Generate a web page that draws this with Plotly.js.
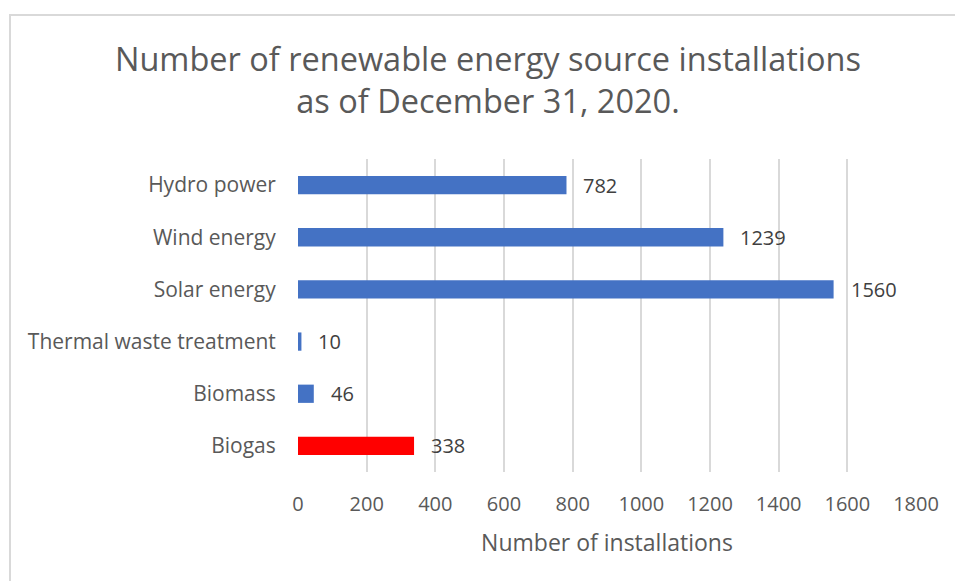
<!DOCTYPE html>
<html>
<head>
<meta charset="utf-8">
<script src="https://cdn.plot.ly/plotly-3.0.1.min.js"></script>
<style>
  html, body { margin: 0; padding: 0; background: #ffffff; overflow: hidden; }
  #frame { position: absolute; left: 9px; top: 14px; width: 1100px; height: 800px; border: 2px solid #d9d9d9; box-sizing: border-box; }
  #chart { position: absolute; left: 0; top: 0; width: 955px; height: 581px; }
</style>
</head>
<body>
<div id="frame"></div>
<div id="chart"></div>
<script>
const categories = ["Biogas", "Biomass", "Thermal waste treatment", "Solar energy", "Wind energy", "Hydro power"];
const values = [338, 46, 10, 1560, 1239, 782];
const barColors = ["#FF0000", "#4472C4", "#4472C4", "#4472C4", "#4472C4", "#4472C4"];
const tickValues = [0, 200, 400, 600, 800, 1000, 1200, 1400, 1600, 1800];

const FONT = "Open Sans, Noto Sans, sans-serif";

const trace = {
  type: "bar",
  orientation: "h",
  y: categories,
  x: values,
  marker: { color: barColors },
  width: 0.35,
  hoverinfo: "skip"
};

const annotations = categories.map((c, i) => ({
  x: values[i], y: c, xref: "x", yref: "y",
  text: String(values[i]), showarrow: false,
  xanchor: "left", yanchor: "middle", xshift: 15,
  font: { family: FONT, size: 20, color: "#404040" }
}));

const layout = {
  width: 955, height: 581,
  margin: { l: 298, r: 39, t: 159, b: 109 },
  paper_bgcolor: "rgba(0,0,0,0)",
  plot_bgcolor: "rgba(0,0,0,0)",
  showlegend: false,
  title: {
    text: "Number of renewable energy source installations<br>as of December 31, 2020.",
    font: { family: FONT, size: 32.5, color: "#595959" },
    x: 0.511, xanchor: "center",
    y: 0.878, yanchor: "top", yref: "container"
  },
  xaxis: {
    range: [0, 1800],
    tickvals: tickValues,
    ticktext: tickValues.map(String),
    showgrid: true, gridcolor: "#d9d9d9", gridwidth: 2,
    zeroline: false, showline: false,
    ticks: "outside", ticklen: 14, tickcolor: "rgba(0,0,0,0)",
    tickfont: { family: FONT, size: 20, color: "#595959" },
    title: { text: "Number of installations", font: { family: FONT, size: 23, color: "#595959" }, standoff: 18 },
    fixedrange: true
  },
  yaxis: {
    type: "category",
    range: [-0.5, 5.5],
    showgrid: false, zeroline: false, showline: false,
    ticks: "outside", ticklen: 17, tickcolor: "rgba(0,0,0,0)",
    tickfont: { family: FONT, size: 21, color: "#595959" },
    fixedrange: true
  },
  annotations: annotations,
  bargap: 0.65
};

Plotly.newPlot("chart", [trace], layout, { displayModeBar: false, staticPlot: true });
</script>
</body>
</html>
